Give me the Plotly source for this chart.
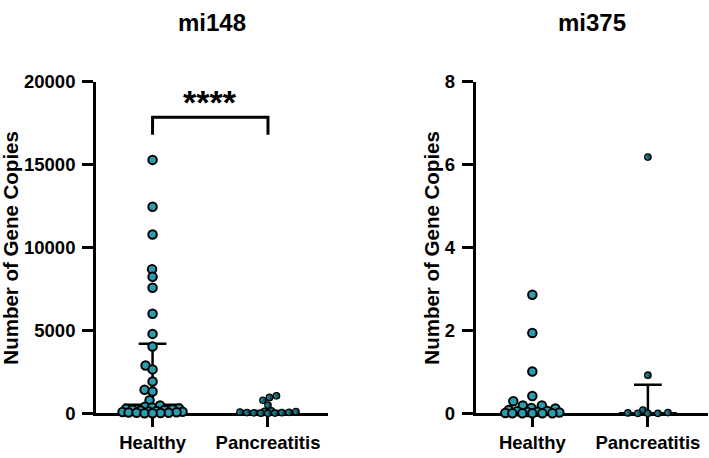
import math
import plotly.graph_objects as go

# ---------------- data ----------------
categories = ["Healthy", "Pancreatitis"]

mi148_healthy = [15280, 12460, 10780, 8690, 8230, 7570, 6000, 4790, 4030, 2880, 2650,
                 1920, 1420, 1320, 790, 480, 400, 350, 300, 280, 250, 220, 200, 180,
                 150, 120, 100, 80, 60, 50, 40, 30, 20, 10, 0]
mi148_pancreatitis = [1060, 960, 790, 500, 150, 120, 100, 80, 60, 50, 40, 30, 20, 10, 0]

mi375_healthy = [2.86, 1.94, 1.01, 0.42, 0.29, 0.19, 0.19, 0.13, 0.12, 0.08, 0.06, 0.05,
                 0.04, 0.03, 0.02, 0.01, 0, 0, 0, 0, 0]
mi375_pancreatitis = [6.18, 0.92, 0.08, 0.02, 0.01, 0, 0, 0]

# summary lines: centre line and upper whisker
mi148_center = [520, 90]
mi148_upper = [4200, 150]
mi375_center = [0.02, 0.0]
mi375_upper = [0.06, 0.69]

mi148_ticks = [0, 5000, 10000, 15000, 20000]
mi375_ticks = [0, 2, 4, 6, 8]
mi148_range = [0, 20000]
mi375_range = [0, 8]

bracket_low, bracket_high, stars_y = 16800, 17850, 18800
stars_text = "****"
titles = ["mi148", "mi375"]
ytitle = "Number of Gene Copies"

# ---------------- styles ----------------
W, H = 709, 458
TEAL = "#2b9db0"
DARK = "#0d2f36"
FONT = "Liberation Sans, Arial, sans-serif"
XR = [-0.49, 1.52]
PLOT_W = 232.0
PLOT_H = 347.7
PX_PER_X = PLOT_W / (XR[1] - XR[0])


def swarm(values, yrange, spacing, maxw):
    """Bounded beeswarm: x offsets (data units) keeping points inside +-maxw px."""
    py = PLOT_H / (yrange[1] - yrange[0])
    order = sorted(range(len(values)), key=lambda i: values[i])
    placed = []
    xs = [0.0] * len(values)
    steps = int(maxw * 2)
    cands = [(-maxw + k * 0.5) for k in range(2 * steps + 1)]
    cands.sort(key=lambda c: (abs(c), c))
    for i in order:
        y = values[i] * py
        best, best_d = 0.0, -1.0
        chosen = None
        for c in cands:
            md = min((math.hypot(c - xj, y - yj) for xj, yj in placed), default=1e9)
            if md >= spacing:
                chosen = c
                break
            if md > best_d + 1e-9:
                best, best_d = c, md
        if chosen is None:
            chosen = best
        placed.append((chosen, y))
        xs[i] = chosen / PX_PER_X
    return xs


fig = go.Figure()

domains_x = [[96 / W, 328 / W], [475.7 / W, 708 / W]]
ydom = [(H - 421.7) / H, (H - 74) / H]

panels = [
    ("x", "y", [mi148_healthy, mi148_pancreatitis], mi148_center, mi148_upper, mi148_range,
     [(8.0, 30.0), (7.0, 29.0)]),
    ("x2", "y2", [mi375_healthy, mi375_pancreatitis], mi375_center, mi375_upper, mi375_range,
     [(10.0, 27.0), (10.0, 25.0)]),
]

for xa, ya, groups, centers, uppers, yr, packing in panels:
    for gi in range(2):
        half_w = 0.25
        cap_w = 0.12
        fig.add_trace(go.Scatter(x=[gi - half_w, gi + half_w], y=[centers[gi]] * 2,
                                 mode="lines", line=dict(color="black", width=2.5),
                                 xaxis=xa, yaxis=ya, showlegend=False, hoverinfo="skip",
                                 cliponaxis=False))
        fig.add_trace(go.Scatter(x=[gi, gi, None, gi - cap_w, gi + cap_w],
                                 y=[centers[gi], uppers[gi], None, uppers[gi], uppers[gi]],
                                 mode="lines", line=dict(color="black", width=2.5),
                                 xaxis=xa, yaxis=ya, showlegend=False, hoverinfo="skip",
                                 cliponaxis=False))
    for gi, vals in enumerate(groups):
        spacing, maxw = packing[gi]
        if gi == 0:
            marker = dict(size=8.5, color=TEAL, line=dict(color="black", width=2.0))
        else:
            marker = dict(size=6.5, color=TEAL, line=dict(color="black", width=1.2),
                          gradient=dict(type="horizontal", color=DARK))
        offs = swarm(vals, yr, spacing, maxw)
        fig.add_trace(go.Scatter(x=[gi + o for o in offs], y=vals, mode="markers",
                                 marker=marker, xaxis=xa, yaxis=ya, showlegend=False,
                                 cliponaxis=False))

# significance bracket
fig.add_trace(go.Scatter(x=[0, 0, 1, 1], y=[bracket_low, bracket_high, bracket_high, bracket_low],
                         mode="lines", line=dict(color="black", width=3),
                         xaxis="x", yaxis="y", showlegend=False, hoverinfo="skip",
                         cliponaxis=False))
fig.add_annotation(x=0.5, y=stars_y, xref="x", yref="y", text=stars_text, showarrow=False,
                   font=dict(family=FONT, size=34, color="black", weight="bold"),
                   yanchor="middle")

axis_common = dict(showgrid=False, zeroline=False, showline=True, linecolor="black",
                   linewidth=2.7, ticks="outside", ticklen=11, tickwidth=2.7,
                   tickcolor="black", layer="below traces",
                   tickfont=dict(family=FONT, size=18.5, color="black", weight="bold"))

fig.update_layout(
    width=W, height=H, margin=dict(l=0, r=0, t=0, b=0),
    paper_bgcolor="white", plot_bgcolor="white",
    xaxis=dict(domain=domains_x[0], range=XR, tickvals=[0, 1], ticktext=categories,
               anchor="y", **axis_common),
    yaxis=dict(domain=ydom, range=mi148_range, tickvals=mi148_ticks,
               ticktext=[str(t) for t in mi148_ticks], anchor="x", ticklabelstandoff=3,
               **axis_common),
    xaxis2=dict(domain=domains_x[1], range=XR, tickvals=[0, 1], ticktext=categories,
                anchor="y2", **axis_common),
    yaxis2=dict(domain=ydom, range=mi375_range, tickvals=mi375_ticks,
                ticktext=[str(t) for t in mi375_ticks], anchor="x2", ticklabelstandoff=3,
                **axis_common),
)

for cx, t in zip([212, 592], titles):
    fig.add_annotation(x=cx / W, y=1 - 12 / H, xref="paper", yref="paper", text=t,
                       showarrow=False, xanchor="center", yanchor="middle",
                       font=dict(family=FONT, size=24, color="black", weight="bold"))
for cx in [11, 432]:
    fig.add_annotation(x=cx / W, y=1 - 248 / H, xref="paper", yref="paper", text=ytitle,
                       showarrow=False, textangle=-90, xanchor="center", yanchor="middle",
                       font=dict(family=FONT, size=20.5, color="black", weight="bold"))

fig.write_html("out.html")
